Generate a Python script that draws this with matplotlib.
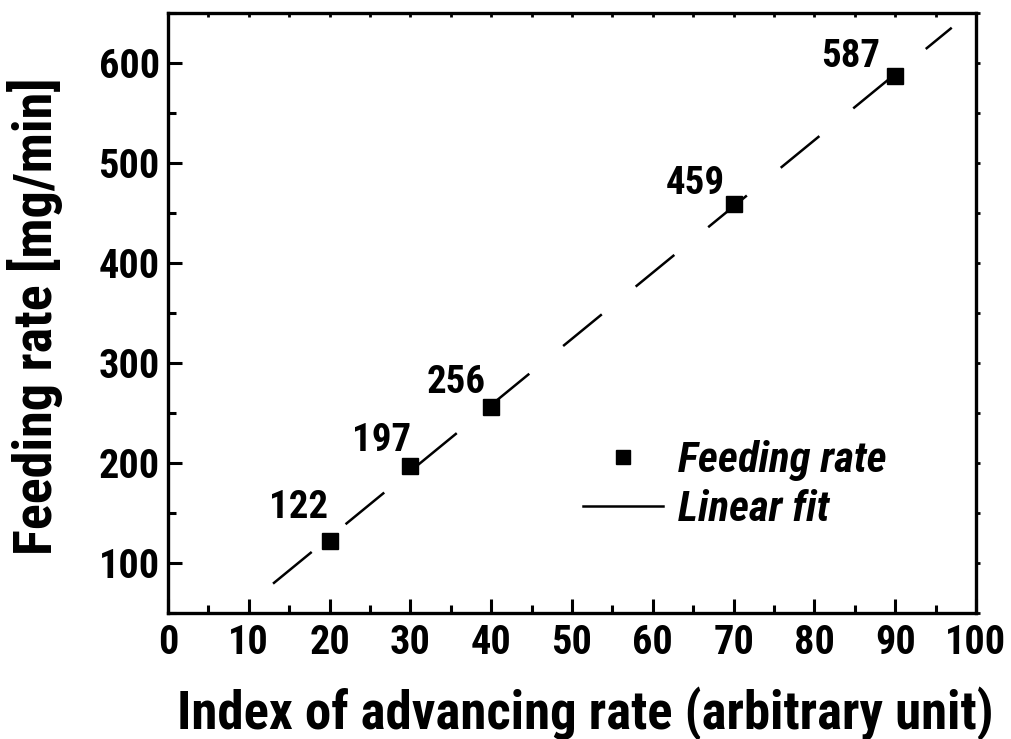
import matplotlib
matplotlib.use("Agg")
import matplotlib.pyplot as plt
import numpy as np
from matplotlib.lines import Line2D

# advancing-rate index vs measured feeding rate
advance_index = [20, 30, 40, 70, 90]
feed_rate = [122, 197, 256, 459, 587]
# where each value label sits relative to its point (data units)
label_offsets = [(-3.9, 33), (-3.6, 25), (-4.4, 24), (-4.7, 20), (-5.5, 19)]

x_ticks = list(range(0, 101, 10))
y_ticks = list(range(100, 601, 100))

plt.rcParams['font.family'] = ['Roboto Condensed', 'Liberation Sans']
plt.rcParams['font.weight'] = 'bold'
plt.rcParams['axes.labelweight'] = 'bold'

fig = plt.figure(figsize=(10.12, 7.39), dpi=100)
ax = fig.add_axes([0.166, 0.1705, 0.7984, 0.812])

ax.plot(advance_index, feed_rate, 's', color='black', markersize=12.2, zorder=3)

# straight-line fit through the points
slope, icept = np.polyfit(advance_index, feed_rate, 1)
xf = np.array([13, 97])
fit, = ax.plot(xf, slope * xf + icept, color='black', lw=1.8)
fit.set_dashes((20, 17.5))

for x, y, (dx, dy) in zip(advance_index, feed_rate, label_offsets):
    ax.text(x + dx, y + dy, str(y), fontsize=28, ha='center', va='center')

ax.set_xlim(0, 100)
ax.set_ylim(50, 650)
ax.set_xticks(x_ticks)
ax.set_yticks(y_ticks)
ax.set_xticks(range(5, 100, 10), minor=True)
ax.set_yticks(range(50, 651, 100), minor=True)
ax.tick_params(which='both', direction='in', width=2.2)
ax.tick_params(which='major', length=10, labelsize=29)
ax.tick_params(axis='x', which='major', pad=8)
ax.tick_params(axis='y', which='major', pad=6)
ax.tick_params(which='minor', length=6)
for s in ax.spines.values():
    s.set_linewidth(2.4)

# short ticks on the top and right frame
top = ax.secondary_xaxis('top')
top.set_xticks(range(0, 101, 5))
top.tick_params(direction='in', length=3, width=2, labeltop=False)
right = ax.secondary_yaxis('right')
right.set_yticks(range(50, 651, 50))
right.tick_params(direction='out', length=3, width=2, labelright=False)

ax.set_xlabel('Index of advancing rate (arbitrary unit)', fontsize=38)
ax.xaxis.set_label_coords(0.516, -0.122)
ax.set_ylabel('Feeding rate [mg/min]', fontsize=39)
ax.yaxis.set_label_coords(-0.13, 0.495)

h_pt = Line2D([], [], marker='s', ls='none', color='black', markersize=10)
h_ln = Line2D([], [], color='black', lw=1.8)
ax.legend([h_pt, h_ln], ['Feeding rate', 'Linear fit'], loc='center left',
          bbox_to_anchor=(0.514, 0.213), frameon=False, borderpad=0, borderaxespad=0,
          handlelength=1.85, handletextpad=0.35, labelspacing=0.2,
          prop={'size': 31, 'style': 'italic', 'weight': 'bold'})

fig.savefig('out.png')
